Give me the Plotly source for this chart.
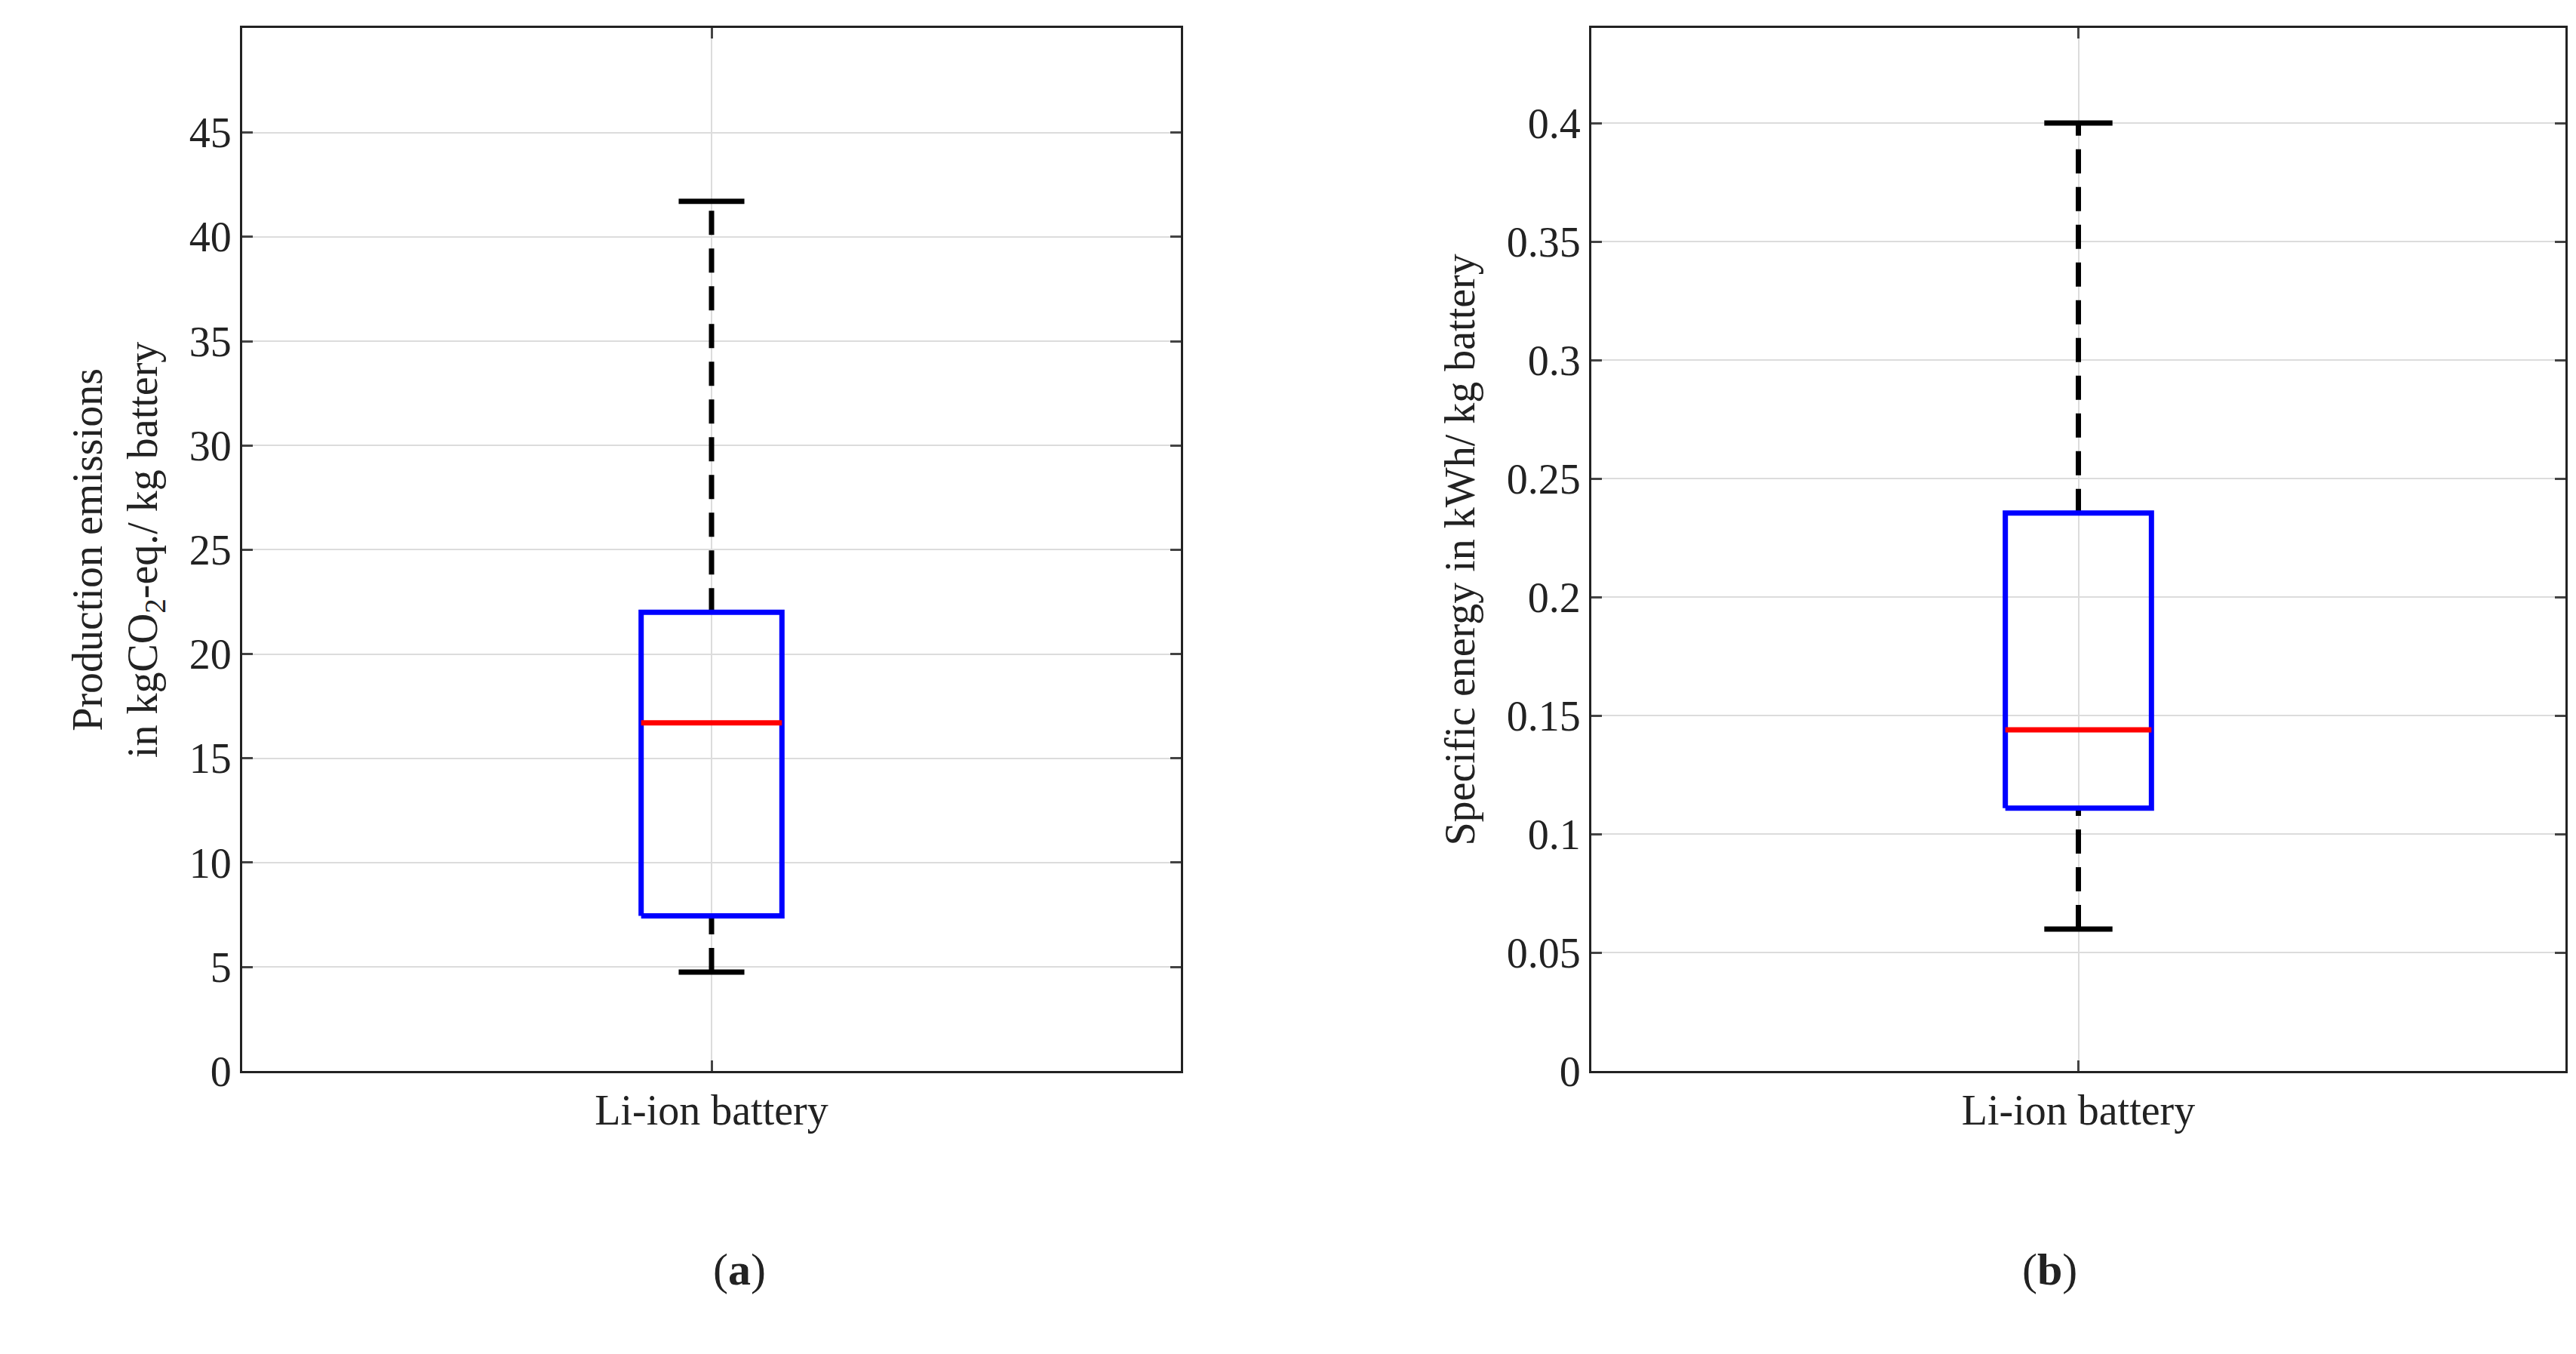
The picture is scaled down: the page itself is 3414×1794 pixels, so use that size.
import plotly.graph_objects as go
from plotly.subplots import make_subplots

category = "Li-ion battery"
# [lower whisker, Q1, median, Q3, upper whisker]
emissions = [4.75, 7.45, 16.7, 22.0, 41.7]
energy = [0.060, 0.111, 0.144, 0.2355, 0.400]
ylabels = ["Production emissions<br>in kgCO<sub>2</sub>-eq./ kg battery",
           "Specific energy in kWh/ kg battery"]
panel_labels = ["(<b>a</b>)", "(<b>b</b>)"]

FONT = "Liberation Serif"
fig = make_subplots(rows=1, cols=2, horizontal_spacing=0.0)
fig.update_layout(width=3414, height=1794, plot_bgcolor="white", paper_bgcolor="white",
                  showlegend=False, font=dict(family=FONT, size=56, color="#222"),
                  margin=dict(l=0, r=0, t=0, b=0))

bw, cw = 0.075, 0.035
for i, d in enumerate([emissions, energy], start=1):
    lo, q1, med, q3, hi = d
    x0, x1 = 1 - bw, 1 + bw
    fig.add_trace(go.Scatter(x=[1, 1, None, 1, 1], y=[q3, hi, None, lo, q1], mode="lines",
                             line=dict(color="black", width=7, dash="32px,18px")), row=1, col=i)
    fig.add_trace(go.Scatter(x=[1 - cw, 1 + cw, None, 1 - cw, 1 + cw], y=[hi, hi, None, lo, lo],
                             mode="lines", line=dict(color="black", width=7)), row=1, col=i)
    fig.add_trace(go.Scatter(x=[x0, x1, x1, x0, x0], y=[q1, q1, q3, q3, q1], mode="lines",
                             line=dict(color="#0000ff", width=7)), row=1, col=i)
    fig.add_trace(go.Scatter(x=[x0, x1], y=[med, med], mode="lines",
                             line=dict(color="#ff0000", width=7)), row=1, col=i)

ax = dict(showline=True, linecolor="#222", linewidth=3, mirror="ticks", ticks="inside",
          ticklen=14, tickwidth=3, showgrid=True, gridcolor="#dcdcdc", gridwidth=2,
          zeroline=False, tickfont=dict(family=FONT, size=56, color="#222"))
fig.update_xaxes(**ax, range=[0.5, 1.5], tickvals=[1], ticktext=[category])
fig.update_xaxes(domain=[313/3414, 1557/3414], row=1, col=1)
fig.update_xaxes(domain=[2101/3414, 3392/3414], row=1, col=2)
ydom = [1 - 1437/1794, 1 - 30/1794]
fig.update_yaxes(**ax, domain=ydom)
fig.update_yaxes(range=[0, 50], dtick=5, row=1, col=1,
                 title=dict(text=ylabels[0], standoff=25, font=dict(size=56)))
fig.update_yaxes(range=[0, 0.44], tickvals=[0, .05, .1, .15, .2, .25, .3, .35, .4],
                 ticktext=["0", "0.05", "0.1", "0.15", "0.2", "0.25", "0.3", "0.35", "0.4"],
                 row=1, col=2, title=dict(text=ylabels[1], standoff=25, font=dict(size=56)))

for xc, t in zip([(313 + 1557) / 2 / 3414, (2101 + 3392) / 2 / 3414], panel_labels):
    fig.add_annotation(x=xc, y=1 - 1740/1794, xref="paper", yref="paper", text=t,
                       showarrow=False, font=dict(family=FONT, size=60, color="#222"))

fig.write_html("out.html")
